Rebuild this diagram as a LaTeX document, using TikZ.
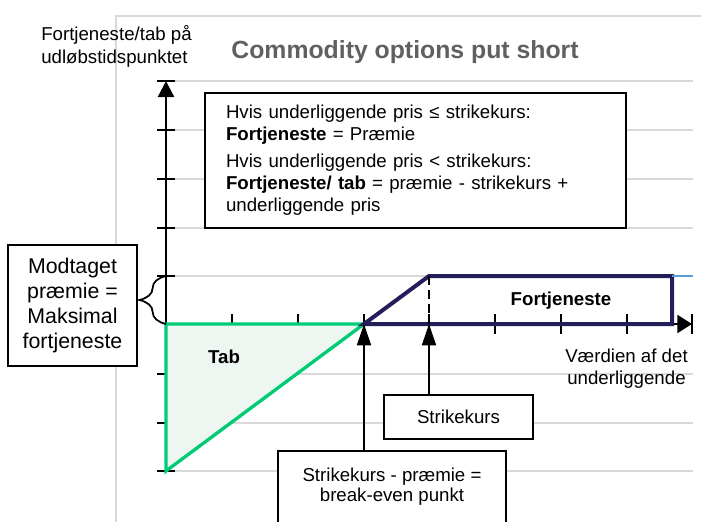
\documentclass[tikz,border=0pt]{standalone}
\usepackage{fontspec}
\setmainfont{Liberation Sans}
\usetikzlibrary{arrows.meta,decorations.pathreplacing}

\definecolor{navy}{RGB}{35,30,90}
\definecolor{putgreen}{RGB}{0,204,120}
\definecolor{lossfill}{RGB}{238,246,242}
\definecolor{gridgray}{RGB}{217,217,217}
\definecolor{titlegray}{RGB}{96,96,96}
\definecolor{lightblue}{RGB}{91,155,213}

\begin{document}
\begin{tikzpicture}[x=0.75pt,y=-0.75pt,
    txt/.style={inner sep=0pt,font=\fontsize{14}{16.5}\selectfont},
    boldtxt/.style={inner sep=0pt,font=\bfseries\fontsize{14}{16.5}\selectfont},
    box/.style={draw,fill=white,line width=1.5pt,inner sep=0pt,align=center,font=\fontsize{14}{15}\selectfont},
    grid line/.style={gridgray,line width=1.5pt},
    tick/.style={line width=1.7pt},
    pointer/.style={-{Triangle[length=16pt,width=10.5pt]},line width=1.4pt}]
  \useasboundingbox (0,0) rectangle (701,522);

  \draw[grid line] (116,522) -- (116,16) -- (701,16);
  \foreach \y in {81,130,179,228,276,374,423,471}
    \draw[grid line] (166,\y) -- (693,\y);

  \coordinate (origin) at (166,324);
  \coordinate (ytop) at (166,81);
  \coordinate (ybot) at (166,471);
  \coordinate (xend) at (692,324);
  \coordinate (breakeven) at (364,324);
  \coordinate (strikept) at (429,324);
  \coordinate (strikepeak) at (429,276);
  \coordinate (capend) at (672,276);
  \coordinate (premtop) at (166,276);

  \node[font=\bfseries\fontsize{18.6}{20}\selectfont,text=titlegray,inner sep=0pt] (title) at (405,52) {Commodity options put short};
  \node[txt,font=\fontsize{14}{17.25}\selectfont,anchor=west,align=left] (ylabel) at (41,46.5) {Fortjeneste/tab på\\udløbstidspunktet};
  \node[txt,align=center] (xlabel) at (626.5,369) {Værdien af det\\underliggende};

  % axes
  \foreach \y in {81,130,179,228,276,374,423,471}
    \draw[tick] (157,\y) -- (175,\y);
  \foreach \x in {232,298,364,429,495,561,627,692}
    \draw[tick] (\x,314) -- (\x,334);
  \draw[line width=1.7pt,-{Triangle[length=12pt,width=12pt]}] (ybot) -- (ytop);
  \draw[line width=1.7pt,-{Triangle[length=11pt,width=13.5pt]}] (origin) -- (xend);

  \draw[putgreen,line width=2.5pt,fill=lossfill] (origin) -- (breakeven) -- (ybot) -- cycle;
  \draw[navy,line width=3pt] (breakeven) -- (strikepeak) -- (capend) -- (672,324) -- cycle;
  \draw[line width=2pt,dash pattern=on 6.5pt off 4pt] (strikepeak) -- (strikept);
  \draw[lightblue,line width=0.8pt] (capend) -- (693,276);

  \node[boldtxt] (gain) at (561,301) {Fortjeneste};
  \node[boldtxt] (loss) at (224,357) {Tab};

  \draw[line width=1.3pt,decorate,decoration={brace,amplitude=20pt}] (origin) -- (premtop);
  \node[box,minimum width=96.75pt,minimum height=90.75pt,font=\fontsize{16}{18.75}\selectfont] (premium) at (72.5,305.5) {Modtaget\\præmie =\\Maksimal\\fortjeneste};

  \node[box,anchor=north west,align=left,text width=284pt,inner xsep=15.75pt,minimum height=101.25pt,font=\fontsize{14}{16.5}\selectfont] (rules) at (204,92)
    {Hvis underliggende pris ≤ strikekurs:\\
     \textbf{Fortjeneste} = Præmie\\[3.75pt]
     Hvis underliggende pris < strikekurs:\\
     \textbf{Fortjeneste/ tab} = præmie - strikekurs +\\
     underliggende pris};

  \node[box,minimum width=111.75pt,minimum height=33pt] (strike) at (458.5,417) {Strikekurs};
  \node[box,minimum width=171pt,minimum height=54pt] (be) at (392,487) {Strikekurs - præmie =\\break-even punkt};

  \draw[pointer] (strike.north -| strikept) -- (strikept);
  \draw[pointer] (be.north -| breakeven) -- (breakeven);
\end{tikzpicture}
\end{document}
